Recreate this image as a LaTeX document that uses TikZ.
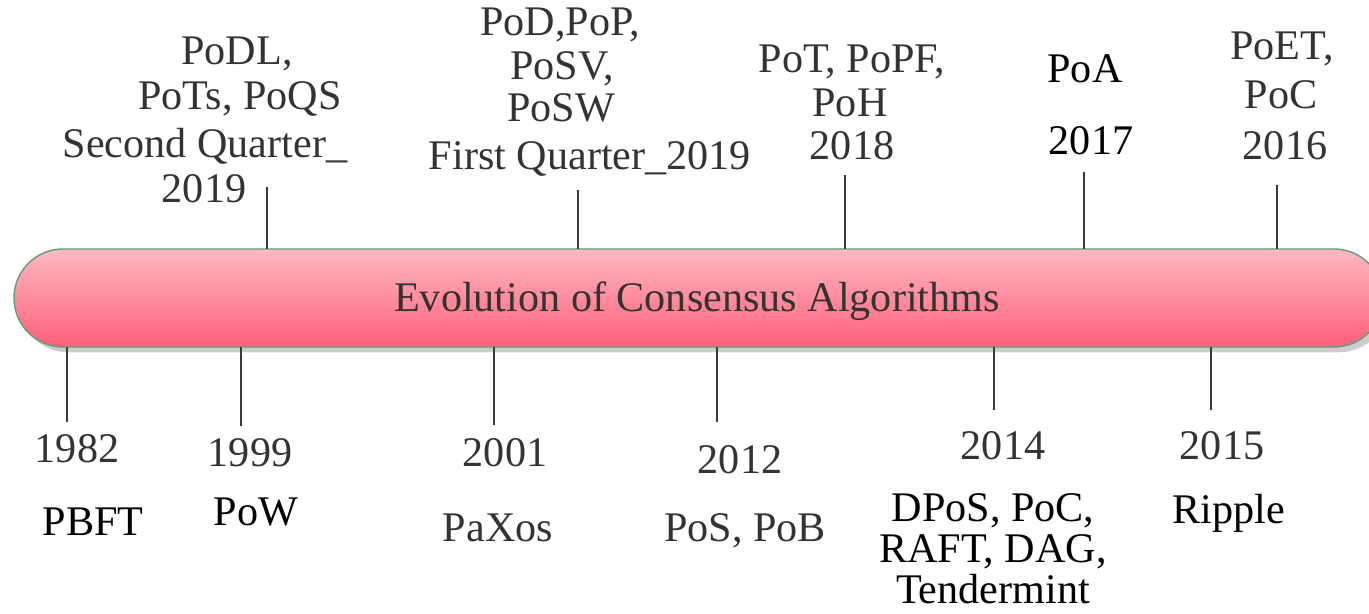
\documentclass[tikz,border=0pt]{standalone}
\usepackage{fontspec}
\setmainfont{Liberation Serif}
\usetikzlibrary{shadows}
\definecolor{txtgray}{HTML}{333333}
\definecolor{tickgray}{HTML}{3A3A3A}
\definecolor{bartop}{HTML}{FFB8C4}
\definecolor{barbot}{HTML}{FF6078}
\definecolor{barline}{HTML}{5E9E78}
\tikzset{
  lbl/.style={inner sep=0pt, anchor=base, text=txtgray, font=\fontsize{24}{28}\selectfont},
  lblk/.style={lbl, text=black},
  tickline/.style={draw=tickgray, line width=1.1pt},
  barbox/.style={rounded corners=0.98cm, draw=barline, line width=0.8pt,
    top color=bartop, bottom color=barbot,
    drop shadow={shadow xshift=3pt, shadow yshift=-3pt, fill=black, opacity=0.2}}
}
\begin{document}
\begin{tikzpicture}[x=0.02cm, y=-0.02cm]
\useasboundingbox (0,0) rectangle (1369,614);
% bar
\path[barbox] (14,249) rectangle (1383,347);
\coordinate (barN) at (0,249);
\coordinate (barS) at (0,347);
\node[lbl] (title) at (697,312) {Evolution of Consensus Algorithms};
% top tick ends
\coordinate (t1) at (267,187);
\coordinate (t2) at (578,190);
\coordinate (t3) at (845,175);
\coordinate (t4) at (1084,172);
\coordinate (t5) at (1277,185);
\foreach \t in {t1,t2,t3,t4,t5} \draw[tickline] (\t) -- (\t |- barN);
% bottom tick ends
\coordinate (b1) at (67,422);
\coordinate (b2) at (241,426);
\coordinate (b3) at (494,425);
\coordinate (b4) at (717,422);
\coordinate (b5) at (994,410);
\coordinate (b6) at (1211,410);
\foreach \b in {b1,b2,b3,b4,b5,b6} \draw[tickline] (\b |- barS) -- (\b);
% top labels
\node[lbl] (a1) at (237,65) {PoDL,};
\node[lbl] (a2) at (240,110) {PoTs, PoQS};
\node[lbl] (a3) at (205,158) {Second Quarter\_};
\node[lbl] (a4) at (204,203) {2019};
\node[lbl] (c1) at (560,36) {PoD,PoP,};
\node[lbl] (c2) at (562,80) {PoSV,};
\node[lbl] (c3) at (561,122) {PoSW};
\node[lbl] (c4) at (590,170) {First Quarter\_2019};
\node[lbl] (d1) at (852,73) {PoT, PoPF,};
\node[lbl] (d2) at (850,117) {PoH};
\node[lbl] (d3) at (852,160) {2018};
\node[lblk] (e1) at (1085,83) {PoA};
\node[lblk] (e2) at (1091,155) {2017};
\node[lbl] (f1) at (1282,60) {PoET,};
\node[lbl] (f2) at (1281,109) {PoC};
\node[lbl] (f3) at (1285,160) {2016};
% bottom labels
\node[lbl] (y1) at (77,463) {1982};
\node[lbl] (y2) at (250,467) {1999};
\node[lbl] (y3) at (505,467) {2001};
\node[lbl] (y4) at (740,474) {2012};
\node[lbl] (y5) at (1003,460) {2014};
\node[lbl] (y6) at (1222,460) {2015};
\node[lblk] (p1) at (93,536) {PBFT};
\node[lblk] (p2) at (256,525) {PoW};
\node[lbl] (p3) at (498,541) {PaXos};
\node[lbl] (p4) at (745,541) {PoS, PoB};
\node[lblk] (p5) at (993,521) {DPoS, PoC,};
\node[lblk] (p6) at (993,562) {RAFT, DAG,};
\node[lblk] (p7) at (993,603) {Tendermint};
\node[lblk] (p8) at (1229,523) {Ripple};
\end{tikzpicture}
\end{document}
